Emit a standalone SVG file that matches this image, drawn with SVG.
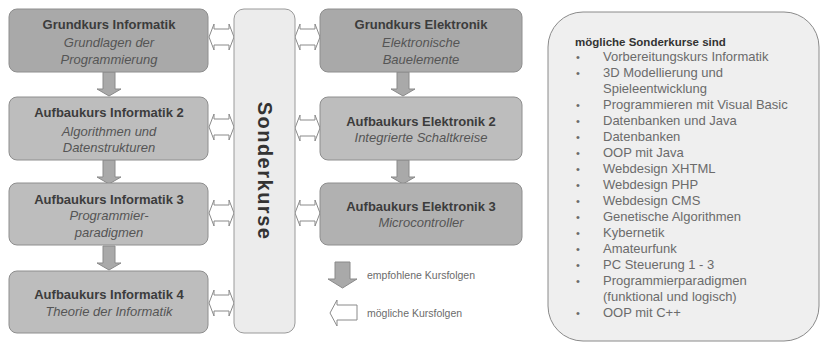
<svg xmlns="http://www.w3.org/2000/svg" width="826" height="344" viewBox="0 0 826 344">
<style>
text{font-family:"Liberation Sans",Arial,sans-serif}
.box{stroke:#8e8e8e;stroke-width:1}
.dark{fill:#a9a9a9}
.light{fill:#bdbdbd}
.t{font-size:13px;font-weight:bold;fill:#3c3c3c;text-anchor:middle}
.s{font-size:13px;font-style:italic;fill:#555;text-anchor:middle}
.da{fill:#fff;stroke:#8a8a8a;stroke-width:1}
.ga{fill:#a9a9a9;stroke:#8a8a8a;stroke-width:1}
.li{font-size:13px;fill:#6b6b6b}
.bu{font-size:11px;fill:#6b6b6b}
.lg{font-size:10.5px;fill:#6b6b6b}
</style>
<defs>
<path id="dbl" d="M0,0 L5,-13 L5,-8 L20,-8 L20,-13 L25,0 L20,13 L20,8 L5,8 L5,13 Z"/>
<path id="down" d="M-6,0 L6,0 L6,17 L12,17 L0,24 L-12,17 L-6,17 Z"/>
</defs>

<g id="connectors">
<use href="#down" class="ga" x="109" y="72"/>
<use href="#down" class="ga" x="109" y="160"/>
<use href="#down" class="ga" x="109" y="246"/>
<use href="#down" class="ga" x="403" y="72"/>
<use href="#down" class="ga" x="403" y="160"/>
<use href="#dbl" class="da" x="209" y="37"/>
<use href="#dbl" class="da" x="209" y="127"/>
<use href="#dbl" class="da" x="209" y="213"/>
<use href="#dbl" class="da" x="209" y="303"/>
<use href="#dbl" class="da" x="295" y="37"/>
<use href="#dbl" class="da" x="295" y="128"/>
<use href="#dbl" class="da" x="295" y="213"/>
</g>

<g id="sonderkurse">
<rect x="234" y="9" width="61" height="324" rx="10" fill="#ececec" stroke="#9a9a9a"/>
<text transform="translate(258,171) rotate(90)" font-size="20" font-weight="bold" fill="#333" text-anchor="middle" letter-spacing="1.5">Sonderkurse</text>
</g>

<g id="gk-informatik">
<rect class="box dark" x="9" y="9" width="199" height="63" rx="8"/>
<text class="t" x="109" y="29">Grundkurs Informatik</text>
<text class="s" x="109" y="47">Grundlagen der</text>
<text class="s" x="109" y="64">Programmierung</text>
</g>
<g id="ak-informatik-2">
<rect class="box light" x="9" y="97" width="199" height="63" rx="8"/>
<text class="t" x="109" y="117">Aufbaukurs Informatik 2</text>
<text class="s" x="109" y="136">Algorithmen und</text>
<text class="s" x="109" y="152">Datenstrukturen</text>
</g>
<g id="ak-informatik-3">
<rect class="box light" x="9" y="183" width="199" height="62" rx="8"/>
<text class="t" x="109" y="204">Aufbaukurs Informatik 3</text>
<text class="s" x="109" y="220">Programmier-</text>
<text class="s" x="109" y="237">paradigmen</text>
</g>
<g id="ak-informatik-4">
<rect class="box light" x="9" y="271" width="199" height="62" rx="8"/>
<text class="t" x="109" y="299">Aufbaukurs Informatik 4</text>
<text class="s" x="109" y="316">Theorie der Informatik</text>
</g>

<g id="gk-elektronik">
<rect class="box dark" x="320" y="9" width="202" height="63" rx="8"/>
<text class="t" x="421" y="29">Grundkurs Elektronik</text>
<text class="s" x="421" y="47">Elektronische</text>
<text class="s" x="421" y="64">Bauelemente</text>
</g>
<g id="ak-elektronik-2">
<rect class="box light" x="320" y="97" width="202" height="63" rx="8"/>
<text class="t" x="421" y="126">Aufbaukurs Elektronik 2</text>
<text class="s" x="421" y="142">Integrierte Schaltkreise</text>
</g>
<g id="ak-elektronik-3">
<rect class="box" fill="#b1b1b1" x="320" y="183" width="202" height="62" rx="8"/>
<text class="t" x="421" y="211">Aufbaukurs Elektronik 3</text>
<text class="s" x="421" y="227">Microcontroller</text>
</g>

<g id="legende">
<path class="ga" d="M335,262 L350,262 L350,279 L357,279 L342.5,288 L328,279 L335,279 Z"/>
<text class="lg" x="367" y="279">empfohlene Kursfolgen</text>
<path class="da" d="M330,313 L337,300 L337,305 L357,305 L357,320 L337,320 L337,326 Z"/>
<text class="lg" x="367" y="317">mögliche Kursfolgen</text>
</g>

<g id="sonderkurse-liste">
<rect x="548" y="12" width="271" height="329" rx="35" fill="#efefef" stroke="#8a8a8a"/>
<text x="575" y="46" font-size="11.5" font-weight="bold" fill="#333">mögliche Sonderkurse sind</text>
<g class="bu">
<text x="576" y="61">•</text><text x="576" y="77">•</text><text x="576" y="109">•</text><text x="576" y="125">•</text><text x="576" y="141">•</text><text x="576" y="157">•</text><text x="576" y="173">•</text><text x="576" y="189">•</text><text x="576" y="205">•</text><text x="576" y="221">•</text><text x="576" y="237">•</text><text x="576" y="253">•</text><text x="576" y="269">•</text><text x="576" y="285">•</text><text x="576" y="317">•</text>
</g>
<g class="li">
<text x="603" y="61">Vorbereitungskurs Informatik</text>
<text x="603" y="77">3D Modellierung und</text>
<text x="603" y="93">Spieleentwicklung</text>
<text x="603" y="109">Programmieren mit Visual Basic</text>
<text x="603" y="125">Datenbanken und Java</text>
<text x="603" y="141">Datenbanken</text>
<text x="603" y="157">OOP mit Java</text>
<text x="603" y="173">Webdesign XHTML</text>
<text x="603" y="189">Webdesign PHP</text>
<text x="603" y="205">Webdesign CMS</text>
<text x="603" y="221">Genetische Algorithmen</text>
<text x="603" y="237">Kybernetik</text>
<text x="603" y="253">Amateurfunk</text>
<text x="603" y="269">PC Steuerung 1 - 3</text>
<text x="603" y="285">Programmierparadigmen</text>
<text x="603" y="301">(funktional und logisch)</text>
<text x="603" y="317">OOP mit C++</text>
</g>
</g>
</svg>
